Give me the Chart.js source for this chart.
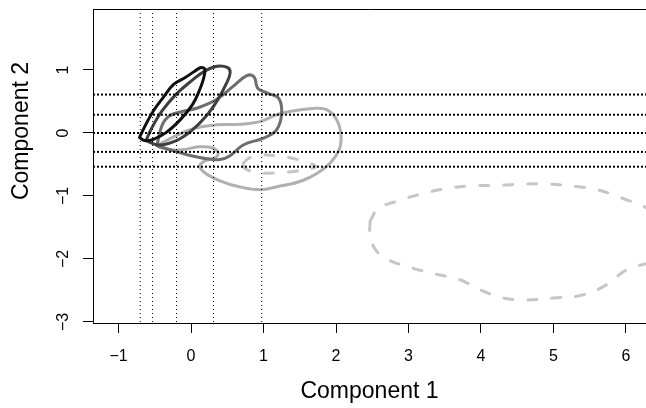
<!DOCTYPE html>
<html>
<head>
<meta charset="utf-8">
<script src="https://cdn.jsdelivr.net/npm/chart.js@4.4.1/dist/chart.umd.min.js"></script>
<style>
  html, body { margin: 0; padding: 0; background: #fff; }
</style>
</head>
<body>
<canvas id="contourChart" width="646" height="408"></canvas>
<script>
// tick values
const xTicks = [-1, 0, 1, 2, 3, 4, 5, 6];
const yTicks = [-3, -2, -1, 0, 1];

// dotted reference lines
const vLines = [-0.70, -0.53, -0.20, 0.31, 0.975];
const hLines = [0.61, 0.29, 0.0, -0.30, -0.535];

// contour 1 (black)
const c1x = [-0.71, -0.63, -0.52, -0.38, -0.24, -0.08, 0.05, 0.14, 0.19, 0.17, 0.11, 0.02, -0.14, -0.34, -0.52, -0.64, -0.71];
const c1y = [-0.07, 0.12, 0.35, 0.57, 0.77, 0.88, 0.98, 1.04, 1.01, 0.85, 0.66, 0.45, 0.22, 0.01, -0.10, -0.12, -0.07];

// contour 2 (dark grey)
const c2x = [-0.62, -0.55, -0.40, -0.20, 0.02, 0.20, 0.36, 0.50, 0.54, 0.49, 0.37, 0.21, 0.00, -0.22, -0.45, -0.62];
const c2y = [-0.12, 0.06, 0.35, 0.62, 0.84, 0.99, 1.06, 1.04, 0.96, 0.79, 0.53, 0.27, 0.03, -0.13, -0.19, -0.12];

// contour 3 (mid grey)
const c3x = [-0.47, -0.40, -0.30, -0.12, 0.10, 0.35, 0.58, 0.77, 0.87, 0.92, 1.06, 1.21, 1.25, 1.18, 1.00, 0.72, 0.54, 0.40, 0.22, -0.04, -0.28, -0.47];
const c3y = [-0.20, 0.12, 0.27, 0.34, 0.40, 0.53, 0.74, 0.91, 0.89, 0.71, 0.63, 0.55, 0.31, 0.05, -0.08, -0.19, -0.36, -0.42, -0.41, -0.35, -0.27, -0.20];

// contour 4 (light grey)
const c4x = [-0.47, -0.24, 0.03, 0.35, 0.68, 0.95, 1.18, 1.41, 1.69, 1.87, 2.01, 2.07, 2.03, 1.85, 1.55, 1.20, 0.95, 0.65, 0.40, 0.20, 0.12, 0.20, 0.35, 0.37, 0.28, 0.10, -0.08, -0.26, -0.43, -0.47];
const c4y = [-0.20, -0.06, 0.07, 0.13, 0.14, 0.18, 0.29, 0.35, 0.39, 0.37, 0.21, -0.06, -0.30, -0.55, -0.75, -0.85, -0.90, -0.85, -0.76, -0.64, -0.52, -0.44, -0.38, -0.30, -0.23, -0.22, -0.26, -0.27, -0.23, -0.20];

// contour 5 (small dashed)
const c5x = [0.72, 0.80, 0.95, 1.15, 1.35, 1.55, 1.72, 1.60, 1.42, 1.20, 1.02, 0.84, 0.73, 0.72];
const c5y = [-0.48, -0.40, -0.35, -0.36, -0.39, -0.45, -0.53, -0.58, -0.61, -0.63, -0.64, -0.61, -0.55, -0.48];

// contour 6 (big dashed)
const c6x = [2.47, 2.58, 2.82, 3.14, 3.48, 3.85, 4.26, 4.60, 4.91, 5.32, 5.60, 5.96, 6.35, 6.55, 6.40, 6.01, 5.73, 5.41, 5.00, 4.63, 4.31, 3.99, 3.71, 3.34, 2.98, 2.72, 2.55, 2.47, 2.47];
const c6y = [-1.40, -1.20, -1.09, -0.98, -0.89, -0.84, -0.83, -0.81, -0.81, -0.85, -0.90, -1.04, -1.25, -1.65, -2.00, -2.17, -2.41, -2.57, -2.62, -2.65, -2.62, -2.49, -2.33, -2.23, -2.12, -2.01, -1.86, -1.62, -1.40];

const FONT = "'Liberation Sans', Arial, Helvetica, sans-serif";

function pts(xs, ys) {
  return xs.map((x, i) => ({ x: x, y: ys[i] }));
}

function contour(xs, ys, color, dashed) {
  return {
    data: pts(xs, ys),
    showLine: true,
    borderColor: color,
    borderWidth: 3,
    borderDash: dashed ? [9, 15] : [],
    borderCapStyle: 'round',
    borderJoinStyle: 'round',
    pointRadius: 0,
    tension: 0.4,
    fill: false
  };
}

function minus(v) {
  return String(v).replace('-', '\u2212');
}

// box top edge, dotted lines, y title
const extras = {
  id: 'extras',
  afterDatasetsDraw(chart) {
    const ctx = chart.ctx;
    const a = chart.chartArea;
    const xs = chart.scales.x;
    const ys = chart.scales.y;
    ctx.save();
    ctx.strokeStyle = '#000';

    ctx.lineWidth = 1;
    ctx.setLineDash([1, 3]);
    vLines.forEach(v => {
      const px = xs.getPixelForValue(v);
      ctx.beginPath();
      ctx.moveTo(px, a.top);
      ctx.lineTo(px, a.bottom);
      ctx.stroke();
    });

    ctx.lineWidth = 2;
    ctx.setLineDash([2, 2]);
    hLines.forEach(v => {
      const py = ys.getPixelForValue(v);
      ctx.beginPath();
      ctx.moveTo(a.left, py);
      ctx.lineTo(chart.width, py);
      ctx.stroke();
    });

    ctx.setLineDash([]);
    ctx.lineWidth = 1;
    ctx.beginPath();
    ctx.moveTo(a.left, Math.round(a.top) + 0.5);
    ctx.lineTo(chart.width, Math.round(a.top) + 0.5);
    ctx.stroke();

    ctx.fillStyle = '#000';
    ctx.font = '23px ' + FONT;
    ctx.textAlign = 'center';
    ctx.textBaseline = 'middle';
    ctx.translate(22, 131);
    ctx.rotate(-Math.PI / 2);
    ctx.fillText('Component 2', 0, 0);
    ctx.restore();
  }
};

new Chart(document.getElementById('contourChart'), {
  type: 'scatter',
  data: {
    datasets: [
      contour(c1x, c1y, '#111111', false),
      contour(c2x, c2y, '#3f3f3f', false),
      contour(c3x, c3y, '#6e6e6e', false),
      contour(c4x, c4y, '#b0b0b0', false),
      contour(c5x, c5y, '#c6c6c6', true),
      contour(c6x, c6y, '#c6c6c6', true)
    ]
  },
  options: {
    responsive: false,
    animation: false,
    layout: { padding: { top: 9, left: 0, right: 0, bottom: 0 } },
    plugins: {
      legend: { display: false },
      tooltip: { enabled: false }
    },
    scales: {
      x: {
        type: 'linear',
        min: -1.352,
        max: 6.276,
        afterBuildTicks: s => { s.ticks = xTicks.map(v => ({ value: v })); },
        afterFit: s => { s.height = 85; s.paddingLeft = 0; s.paddingRight = 0; },
        ticks: {
          color: '#000',
          font: { family: FONT, size: 16 },
          padding: 14,
          maxRotation: 0,
          callback: v => minus(v)
        },
        grid: { drawOnChartArea: false, color: '#000', tickLength: 10 },
        border: { color: '#000', width: 1 },
        title: {
          display: true,
          text: 'Component 1',
          color: '#000',
          font: { family: FONT, size: 23 },
          padding: { top: 0, bottom: 3 }
        }
      },
      y: {
        type: 'linear',
        min: -3.016,
        max: 1.968,
        afterBuildTicks: s => { s.ticks = yTicks.map(v => ({ value: v })); },
        afterFit: s => { s.width = 93; s.paddingTop = 0; s.paddingBottom = 0; },
        ticks: {
          color: '#000',
          font: { family: FONT, size: 16 },
          padding: 10,
          minRotation: 90,
          maxRotation: 90,
          crossAlign: 'center',
          callback: v => minus(v)
        },
        grid: { drawOnChartArea: false, color: '#000', tickLength: 10 },
        border: { color: '#000', width: 1 }
      }
    }
  },
  plugins: [extras]
});
</script>
</body>
</html>
